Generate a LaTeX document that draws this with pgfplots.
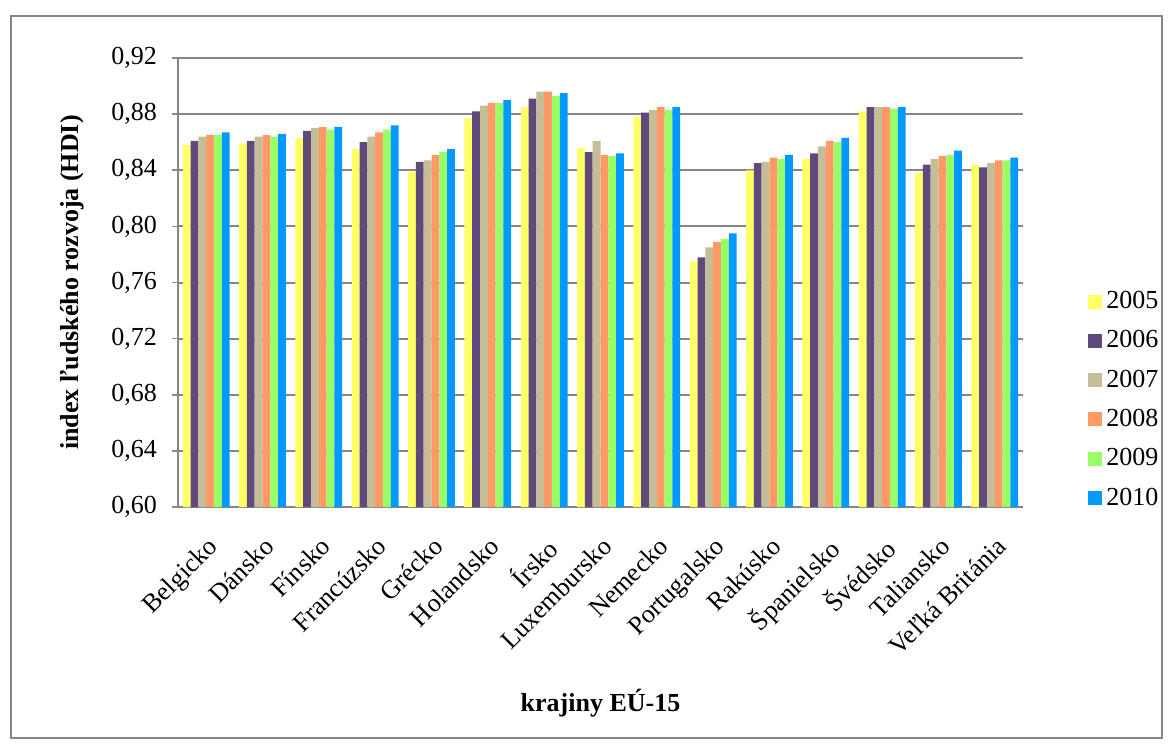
\documentclass[border=0pt]{standalone}
\usepackage{fontspec}
\setmainfont{Liberation Serif}
\usepackage{pgfplots}
\pgfplotsset{compat=1.18}
\usepackage{pgfplotstable}

\definecolor{c05}{HTML}{FFFF66}
\definecolor{c06}{HTML}{604A7B}
\definecolor{c07}{HTML}{C4BD97}
\definecolor{c08}{HTML}{FF9966}
\definecolor{c09}{HTML}{99FF66}
\definecolor{c10}{HTML}{0099FF}
\definecolor{axgray}{HTML}{868686}

% HDI, EU-15, 2005-2010
\pgfplotstableread{
x y05 y06 y07 y08 y09 y10
0  0.858 0.861 0.864 0.865 0.865 0.867
1  0.859 0.861 0.864 0.865 0.864 0.866
2  0.863 0.868 0.870 0.871 0.869 0.871
3  0.855 0.860 0.864 0.867 0.869 0.872
4  0.839 0.846 0.847 0.851 0.853 0.855
5  0.877 0.882 0.886 0.888 0.888 0.890
6  0.885 0.891 0.896 0.896 0.893 0.895
7  0.856 0.853 0.861 0.851 0.850 0.852
8  0.878 0.881 0.883 0.885 0.883 0.885
9  0.775 0.778 0.785 0.789 0.791 0.795
10 0.840 0.845 0.846 0.849 0.848 0.851
11 0.848 0.852 0.857 0.861 0.860 0.863
12 0.882 0.885 0.885 0.885 0.884 0.885
13 0.838 0.844 0.848 0.850 0.851 0.854
14 0.844 0.842 0.845 0.847 0.847 0.849
}\hdi

\begin{document}
\begin{tikzpicture}[x=1pt,y=1pt]
\useasboundingbox (0,0) rectangle (586,-372.5);
\draw[axgray, line width=1pt] (5.5,-8) rectangle (581,-369);
\begin{axis}[
  at={(89pt,-253.5pt)}, anchor=south west,
  scale only axis, width=422.5pt, height=224.5pt,
  font=\fontsize{13}{15}\selectfont,
  ymin=0.6, ymax=0.92,
  ytick={0.6,0.64,0.68,0.72,0.76,0.8,0.84,0.88,0.92},
  /pgf/number format/.cd, use comma, fixed, fixed zerofill, precision=2, assume math mode=true,
  /pgfplots/.cd,
  xmin=-0.5, xmax=14.5,
  xtick={0,...,14},
  xticklabels={Belgicko,Dánsko,Fínsko,Francúzsko,Grécko,Holandsko,Írsko,Luxembursko,Nemecko,Portugalsko,Rakúsko,Španielsko,Švédsko,Taliansko,Veľká Británia},
  minor xtick={-0.5,0.5,...,14.5},
  x tick style={draw=none},
  minor x tick style={axgray, line width=0.8pt},
  minor tick length=3pt,
  y tick style={axgray, line width=0.8pt},
  major tick length=3pt,
  tick align=outside,
  axis x line*=bottom, axis y line*=left,
  axis line style={axgray, line width=1pt, -},
  ymajorgrids, grid style={axgray, line width=1pt},
  yticklabel style={xshift=-4pt},
  xticklabel style={inner sep=0pt, xshift=0pt, yshift=-11pt, rotate=45, anchor=north east},
  xlabel={\textbf{krajiny EÚ-15}},
  xlabel style={at={(axis description cs:0.5,-0.4365)}, anchor=center},
  ylabel={\textbf{index ľudského rozvoja (HDI)}},
  ylabel style={at={(axis description cs:-0.125,0.5)}, anchor=center, rotate=0},
  ybar=0pt, bar width=3.9pt,
  every axis plot/.append style={draw=none,
    legend image code/.code={\fill[##1] (0pt,-3.5pt) rectangle (7pt,3.5pt);}},
  legend style={at={(axis description cs:1.077,0.49)}, anchor=north west,
    draw=none, fill=none, font=\fontsize{13}{15}\selectfont,
    row sep=5.5pt, inner sep=0pt},
  legend cell align=left,
]
\addplot[fill=c05] table[x=x,y=y05] {\hdi};
\addlegendentry{2005}
\addplot[fill=c06] table[x=x,y=y06] {\hdi};
\addlegendentry{2006}
\addplot[fill=c07] table[x=x,y=y07] {\hdi};
\addlegendentry{2007}
\addplot[fill=c08] table[x=x,y=y08] {\hdi};
\addlegendentry{2008}
\addplot[fill=c09] table[x=x,y=y09] {\hdi};
\addlegendentry{2009}
\addplot[fill=c10] table[x=x,y=y10] {\hdi};
\addlegendentry{2010}
\end{axis}
\end{tikzpicture}
\end{document}
